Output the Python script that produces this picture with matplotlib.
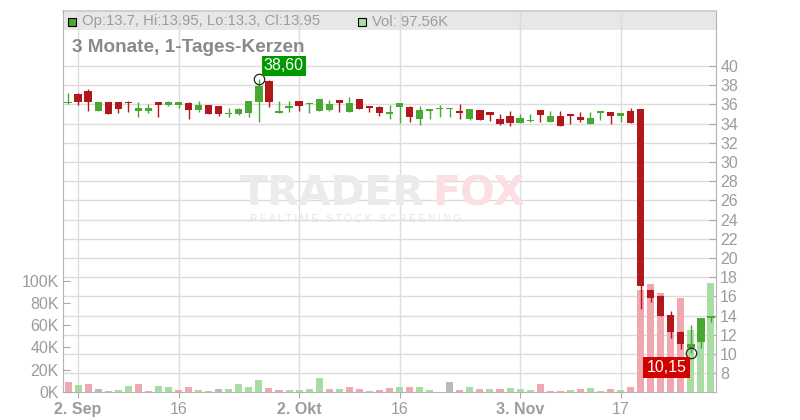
import matplotlib
matplotlib.use("Agg")
import matplotlib.pyplot as plt
from matplotlib.patches import Rectangle

plt.rcParams['font.family'] = ['Liberation Sans', 'DejaVu Sans']

# daily candles, 1 Sep - 28 Nov (trading days)
opens = [36.1, 37.1, 37.4, 35.3, 36.25, 36.25, 36.3, 35.35, 35.35, 36.25,
         35.9, 35.95, 36.15, 35.42, 35.94, 35.83, 34.96, 35.03, 35.14, 36.29,
         38.44, 35.14, 35.66, 36.35, 36.05, 35.35, 35.42, 36.46, 35.24, 36.56,
         35.83, 35.76, 35.0, 35.76, 35.69, 34.48, 35.35, 35.48, 35.48, 35.31,
         34.48, 35.42, 35.17, 34.48, 34.79, 34.1, 34.23, 35.38, 34.17, 34.79,
         35.0, 34.69, 33.99, 35.14, 35.21, 34.83, 35.31, 35.52, 16.67, 16.0,
         14.06, 12.33, 10.6, 11.2, 13.7]
highs = [37.2, 37.2, 37.6, 36.3, 36.25, 36.3, 36.35, 36.2, 36.0, 36.25,
         36.35, 36.3, 36.2, 36.35, 35.94, 35.85, 35.66, 35.66, 36.4, 38.6,
         38.54, 36.35, 36.35, 36.4, 36.3, 36.53, 36.46, 36.5, 36.8, 36.56,
         35.85, 35.8, 35.94, 36.15, 35.83, 35.83, 35.55, 35.94, 35.66, 36.04,
         35.5, 35.42, 35.2, 35.0, 35.31, 35.0, 35.0, 35.4, 35.35, 35.31,
         35.0, 35.21, 35.21, 35.2, 35.21, 35.1, 35.63, 35.52, 16.8, 16.15,
         14.5, 12.35, 13.0, 13.7, 13.95]
lows = [36.05, 35.9, 35.3, 35.3, 35.0, 35.1, 35.2, 34.7, 35.1, 34.7,
        35.8, 35.6, 34.5, 35.25, 34.96, 34.83, 34.65, 34.9, 34.72, 34.2,
        35.76, 35.14, 35.24, 35.35, 35.14, 35.35, 35.35, 35.24, 35.2, 35.52,
        35.24, 34.83, 34.48, 34.03, 34.2, 33.85, 34.48, 34.65, 34.72, 34.48,
        34.38, 34.38, 34.3, 33.85, 33.78, 34.1, 34.2, 34.2, 34.17, 33.78,
        34.0, 34.17, 33.99, 34.38, 33.96, 34.17, 34.1, 14.7, 15.45, 14.0,
        11.7, 10.5, 10.15, 10.6, 13.3]
closes = [36.15, 36.2, 36.2, 36.3, 35.0, 35.5, 36.1, 35.6, 35.6, 35.95,
          36.3, 36.2, 35.4, 35.94, 34.96, 34.96, 35.14, 35.52, 36.35, 37.92,
          36.29, 35.24, 35.76, 35.87, 36.11, 36.53, 36.04, 36.18, 36.18, 35.52,
          35.59, 35.14, 35.21, 36.11, 34.72, 35.42, 35.52, 35.52, 35.52, 35.14,
          35.49, 34.38, 34.93, 33.96, 34.1, 34.55, 34.27, 34.93, 34.79, 33.78,
          34.83, 34.38, 34.58, 35.17, 34.83, 35.1, 34.1, 17.1, 15.8, 14.0,
          12.33, 11.0, 11.0, 13.7, 13.95]
# volume in thousands, bar colour code (r = down, g = up, n = unchanged)
volumes = [9.0, 6.3, 7.2, 2.7, 0.9, 1.8, 5.4, 7.2, 0.9, 5.4,
           4.5, 1.8, 4.5, 1.8, 0.9, 2.7, 2.7, 7.2, 4.5, 10.8,
           3.6, 1.8, 1.8, 1.8, 2.7, 12.6, 2.7, 2.7, 4.5, 2.7,
           0.9, 1.8, 3.6, 4.5, 4.5, 4.5, 1.8, 0.0, 9.0, 1.8,
           4.5, 2.7, 2.7, 2.7, 3.6, 2.7, 1.8, 7.2, 0.9, 0.9,
           1.8, 2.7, 3.6, 0.9, 2.7, 1.8, 4.5, 91.6, 96.5, 88.5,
           62.0, 84.0, 55.5, 66.5, 97.56]
vol_dir = ("rgrnrggrrg" "grrgrngggg" "rrggggrgrr" "grrgrgggnr"
           "grgrgggrrr" "grggrgrrrr" "rrggg")

date_ticks = [1, 11, 23, 33, 45, 55]
date_labels = ["2. Sep", "16", "2. Okt", "16", "3. Nov", "17"]
month_start = ["2. Sep", "2. Okt", "3. Nov"]
price_ticks = list(range(8, 42, 2))
vol_ticks = [0, 20, 40, 60, 80, 100]

RED = '#b2171b'
GREEN = '#47a832'
VCOL = {'r': '#f0a8b0', 'g': '#a9dca2', 'n': '#b9b9b9'}
GRAY = '#9c9c9c'
GRID = '#dcdcdc'

fig = plt.figure(figsize=(8, 4.2), dpi=100)
rect = [63 / 800, 28 / 420, 653 / 800, 381 / 420]

axg = fig.add_axes(rect)   # grid + price labels
axv = axg.twinx()          # volume
axc = axg.twinx()          # candles

# background axis: price grid, right labels
axg.set_xlim(-0.5, 64.5)
axg.set_ylim(6.04, 45.73)
axg.set_axisbelow(True)
axg.set_xticks(date_ticks)
axg.set_xticklabels(date_labels)
axg.set_yticks(price_ticks)
axg.yaxis.tick_right()
axg.yaxis.set_label_position('right')
axg.grid(True, color=GRID, linewidth=1.0)
axg.tick_params(axis='y', direction='in', length=5, color='#aaaaaa', labelcolor=GRAY,
                labelsize=11.5, pad=3)
axg.tick_params(axis='x', direction='out', length=4, color='#aaaaaa', labelcolor=GRAY,
                labelsize=11.5, pad=3)
for lab in axg.get_xticklabels():
    if lab.get_text() in month_start:
        lab.set_fontweight('bold')
for s in ['left', 'right', 'bottom']:
    axg.spines[s].set_color('#b4b4b4')
axg.spines['top'].set_visible(False)

# header band
axg.add_patch(Rectangle((0, 0.949), 1, 0.051, transform=axg.transAxes,
                        facecolor='#e7e7e7', edgecolor='none', zorder=0.2))
axg.plot([0, 1], [1, 1], transform=axg.transAxes, color='#c8c8c8', lw=1.2,
         zorder=0.3, clip_on=False)

# watermark
fig.text(240 / 800, 1 - 205 / 420, "TRADER", fontsize=29.5, fontweight='bold',
         family='DejaVu Sans', color='#ebebeb', zorder=0)
fig.text(432 / 800, 1 - 205 / 420, "FOX", fontsize=29.5, fontweight='bold',
         family='DejaVu Sans', color='#fbdfe2', zorder=0)
fig.text(250 / 800, 1 - 222 / 420, "R E A L T I M E   S T O C K   S C R E E N I N G",
         fontsize=7.2, color='#e4e4e4', zorder=0)

# volume axis
axv.patch.set_visible(False)
axv.set_ylim(0, 342)
axv.set_yticks(vol_ticks)
axv.set_yticklabels([f"{v}K" for v in vol_ticks])
axv.yaxis.tick_left()
axv.yaxis.set_label_position('left')
axv.tick_params(axis='y', direction='in', length=5, color='#aaaaaa', labelcolor=GRAY,
                labelsize=11.5, pad=3)
for s in axv.spines.values():
    s.set_visible(False)
x = list(range(len(volumes)))
axv.bar(x, volumes, width=0.7, color=[VCOL[c] for c in vol_dir], linewidth=0)

# candle axis
axc.patch.set_visible(False)
axc.set_ylim(axg.get_ylim())
axc.set_yticks([])
for s in axc.spines.values():
    s.set_visible(False)
cols = [GREEN if c >= o else RED for o, c in zip(opens, closes)]
axc.vlines(x, lows, highs, colors=cols, linewidth=1.0)
bottoms = [min(o, c) for o, c in zip(opens, closes)]
heights = [max(abs(c - o), 0.14) for o, c in zip(opens, closes)]
axc.bar(x, heights, bottom=bottoms, width=0.72, color=cols, linewidth=0)

# high / low markers
hi_i = highs.index(max(highs))
lo_i = lows.index(min(lows))
axc.plot([hi_i], [highs[hi_i]], 'o', ms=7.5, mfc='none', mec='#222222', mew=0.9)
axc.plot([lo_i], [lows[lo_i]], 'o', ms=7.5, mfc='none', mec='#222222', mew=0.9)
axc.annotate(f"{highs[hi_i]:.2f}".replace('.', ','), (hi_i, highs[hi_i]),
             xytext=(25, 13.5), textcoords='offset pixels', ha='center', va='center',
             color='white', fontsize=11.5,
             bbox=dict(boxstyle='square,pad=0.15', fc='#009a00', ec='none'))
axc.annotate(f"{lows[lo_i]:.2f}".replace('.', ','), (lo_i, lows[lo_i]),
             xytext=(-24.5, -15), textcoords='offset pixels', ha='center', va='center',
             color='white', fontsize=11.5,
             bbox=dict(boxstyle='square,pad=0.2', fc='#d20000', ec='none'))

# header texts
fig.add_artist(Rectangle((68 / 800, 1 - 26 / 420), 8 / 800, 8 / 420, transform=fig.transFigure,
                         facecolor=GREEN, edgecolor='black', lw=0.8))
fig.text(82 / 800, 1 - 21.5 / 420, f"Op:{opens[-1]}, Hi:{highs[-1]}, Lo:{lows[-1]}, Cl:{closes[-1]}",
         fontsize=10.7, color=GRAY, va='center')
fig.add_artist(Rectangle((358 / 800, 1 - 26 / 420), 8 / 800, 8 / 420, transform=fig.transFigure,
                         facecolor=VCOL['g'], edgecolor='black', lw=0.8))
fig.text(372 / 800, 1 - 21.5 / 420, f"Vol: {volumes[-1]}K", fontsize=10.7, color=GRAY, va='center')
fig.text(72 / 800, 1 - 47.5 / 420, "3 Monate, 1-Tages-Kerzen", fontsize=13.7, fontweight='bold',
         color='#8a8a8a', va='center')

fig.savefig("out.png", dpi=100)
